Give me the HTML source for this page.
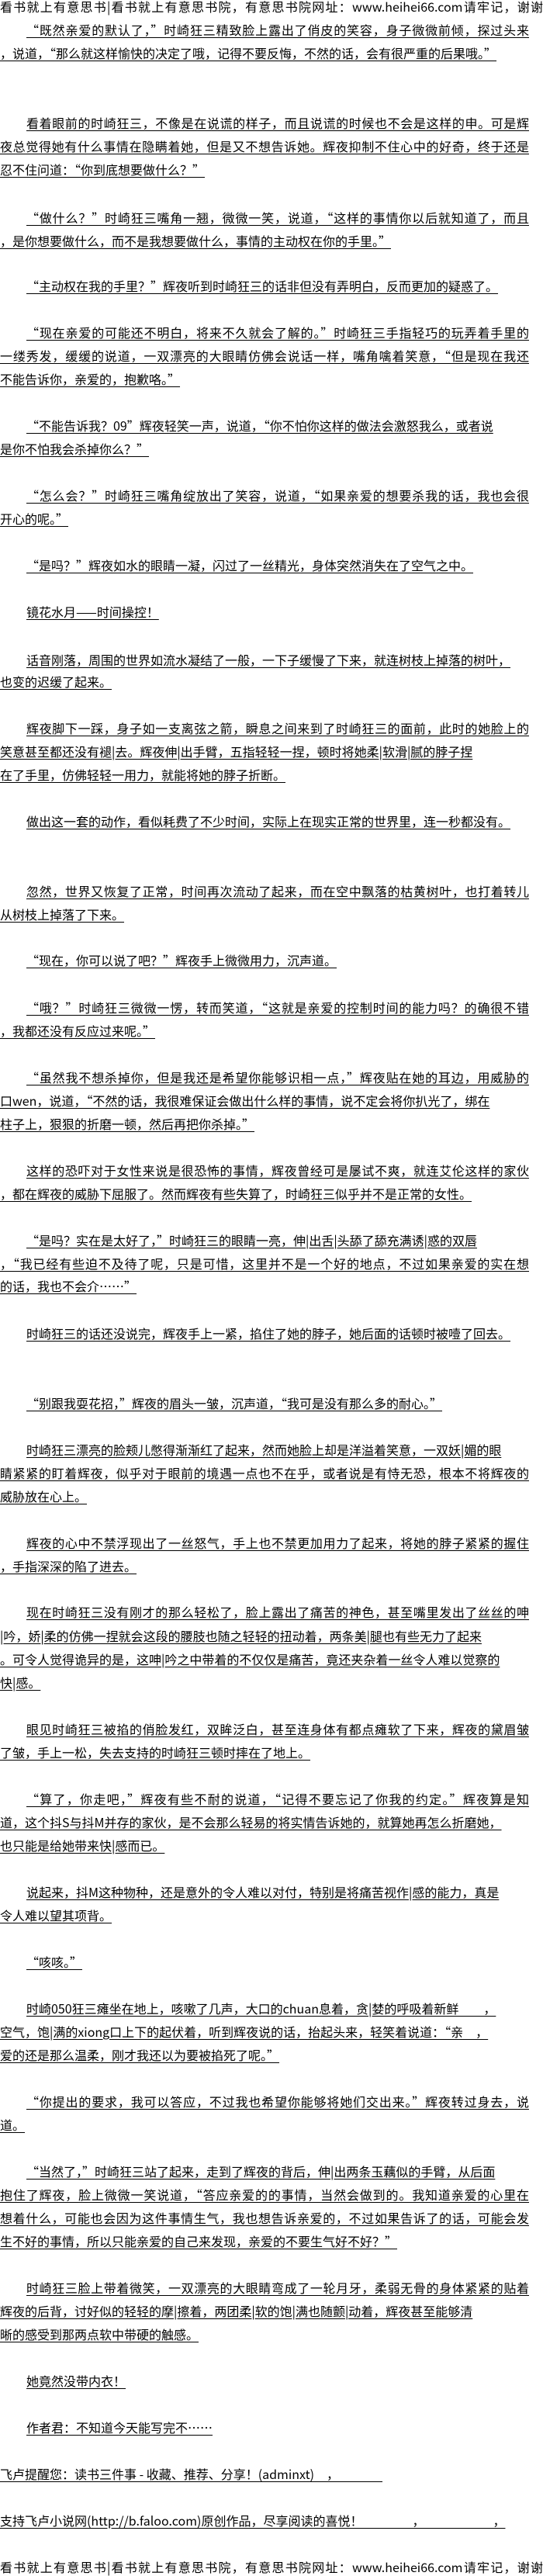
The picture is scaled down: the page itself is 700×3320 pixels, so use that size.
<!DOCTYPE html>
<html><head><meta charset="utf-8"><style>
html,body{margin:0;padding:0;background:#fff;}
body{width:700px;height:3320px;position:relative;overflow:hidden;font-family:"Noto Sans CJK SC","WenQuanYi Zen Hei","Liberation Sans",sans-serif;font-size:16px;color:#000;}
.l{position:absolute;left:0;white-space:nowrap;line-height:20px;height:20px;text-decoration:underline;text-underline-offset:3px;}
.i{left:34px;}
.f{width:682px;text-align:justify;text-align-last:justify;}
.i.f{width:648px;}
.h{text-decoration:none;width:700px;text-align:justify;text-align-last:justify;}
</style></head><body>
<div class="l h" style="top:-2px">看书就上有意思书|看书就上有意思书院，有意思书院网址：www.heihei66.com请牢记，谢谢</div>
<div class="l i f" style="top:28px">“既然亲爱的默认了，”时崎狂三精致脸上露出了俏皮的笑容，身子微微前倾，探过头来</div>
<div class="l" style="top:58px">，说道，“那么就这样愉快的决定了哦，记得不要反悔，不然的话，会有很严重的后果哦。”</div>
<div class="l i f" style="top:148px">看着眼前的时崎狂三，不像是在说谎的样子，而且说谎的时候也不会是这样的申。可是辉</div>
<div class="l f" style="top:178px">夜总觉得她有什么事情在隐瞒着她，但是又不想告诉她。辉夜抑制不住心中的好奇，终于还是</div>
<div class="l" style="top:208px">忍不住问道：“你到底想要做什么？”</div>
<div class="l i f" style="top:270px">“做什么？”时崎狂三嘴角一翘，微微一笑，说道，“这样的事情你以后就知道了，而且</div>
<div class="l" style="top:300px">，是你想要做什么，而不是我想要做什么，事情的主动权在你的手里。”</div>
<div class="l i" style="top:358px">“主动权在我的手里？”辉夜听到时崎狂三的话非但没有弄明白，反而更加的疑惑了。</div>
<div class="l i f" style="top:418px">“现在亲爱的可能还不明白，将来不久就会了解的。”时崎狂三手指轻巧的玩弄着手里的</div>
<div class="l f" style="top:448px">一缕秀发，缓缓的说道，一双漂亮的大眼睛仿佛会说话一样，嘴角噙着笑意，“但是现在我还</div>
<div class="l" style="top:478px">不能告诉你，亲爱的，抱歉咯。”</div>
<div class="l i" style="top:538px">“不能告诉我？09”辉夜轻笑一声，说道，“你不怕你这样的做法会激怒我么，或者说</div>
<div class="l" style="top:568px">是你不怕我会杀掉你么？”</div>
<div class="l i f" style="top:628px">“怎么会？”时崎狂三嘴角绽放出了笑容，说道，“如果亲爱的想要杀我的话，我也会很</div>
<div class="l" style="top:658px">开心的呢。”</div>
<div class="l i" style="top:718px">“是吗？”辉夜如水的眼睛一凝，闪过了一丝精光，身体突然消失在了空气之中。</div>
<div class="l i" style="top:778px">镜花水月——时间操控！</div>
<div class="l i" style="top:840px">话音刚落，周围的世界如流水凝结了一般，一下子缓慢了下来，就连树枝上掉落的树叶，</div>
<div class="l" style="top:868px">也变的迟缓了起来。</div>
<div class="l i f" style="top:928px">辉夜脚下一踩，身子如一支离弦之箭，瞬息之间来到了时崎狂三的面前，此时的她脸上的</div>
<div class="l" style="top:958px">笑意甚至都还没有褪|去。辉夜伸|出手臂，五指轻轻一捏，顿时将她柔|软滑|腻的脖子捏</div>
<div class="l" style="top:988px">在了手里，仿佛轻轻一用力，就能将她的脖子折断。</div>
<div class="l i" style="top:1048px">做出这一套的动作，看似耗费了不少时间，实际上在现实正常的世界里，连一秒都没有。</div>
<div class="l i f" style="top:1138px">忽然，世界又恢复了正常，时间再次流动了起来，而在空中飘落的枯黄树叶，也打着转儿</div>
<div class="l" style="top:1168px">从树枝上掉落了下来。</div>
<div class="l i" style="top:1227px">“现在，你可以说了吧？”辉夜手上微微用力，沉声道。</div>
<div class="l i f" style="top:1288px">“哦？”时崎狂三微微一愣，转而笑道，“这就是亲爱的控制时间的能力吗？的确很不错</div>
<div class="l" style="top:1318px">，我都还没有反应过来呢。”</div>
<div class="l i f" style="top:1378px">“虽然我不想杀掉你，但是我还是希望你能够识相一点，”辉夜贴在她的耳边，用威胁的</div>
<div class="l" style="top:1408px">口wen，说道，“不然的话，我很难保证会做出什么样的事情，说不定会将你扒光了，绑在</div>
<div class="l" style="top:1438px">柱子上，狠狠的折磨一顿，然后再把你杀掉。”</div>
<div class="l i f" style="top:1498px">这样的恐吓对于女性来说是很恐怖的事情，辉夜曾经可是屡试不爽，就连艾伦这样的家伙</div>
<div class="l" style="top:1528px">，都在辉夜的威胁下屈服了。然而辉夜有些失算了，时崎狂三似乎并不是正常的女性。</div>
<div class="l i" style="top:1588px">“是吗？实在是太好了，”时崎狂三的眼睛一亮，伸|出舌|头舔了舔充满诱|惑的双唇</div>
<div class="l f" style="top:1618px">，“我已经有些迫不及待了呢，只是可惜，这里并不是一个好的地点，不过如果亲爱的实在想</div>
<div class="l" style="top:1647px">的话，我也不会介……”</div>
<div class="l i" style="top:1708px">时崎狂三的话还没说完，辉夜手上一紧，掐住了她的脖子，她后面的话顿时被噎了回去。</div>
<div class="l i" style="top:1798px">“别跟我耍花招，”辉夜的眉头一皱，沉声道，“我可是没有那么多的耐心。”</div>
<div class="l i" style="top:1858px">时崎狂三漂亮的脸颊儿憋得渐渐红了起来，然而她脸上却是洋溢着笑意，一双妖|媚的眼</div>
<div class="l f" style="top:1888px">睛紧紧的盯着辉夜，似乎对于眼前的境遇一点也不在乎，或者说是有恃无恐，根本不将辉夜的</div>
<div class="l" style="top:1918px">威胁放在心上。</div>
<div class="l i f" style="top:1978px">辉夜的心中不禁浮现出了一丝怒气，手上也不禁更加用力了起来，将她的脖子紧紧的握住</div>
<div class="l" style="top:2008px">，手指深深的陷了进去。</div>
<div class="l i f" style="top:2067px">现在时崎狂三没有刚才的那么轻松了，脸上露出了痛苦的神色，甚至嘴里发出了丝丝的呻</div>
<div class="l" style="top:2098px">|吟，娇|柔的仿佛一捏就会这段的腰肢也随之轻轻的扭动着，两条美|腿也有些无力了起来</div>
<div class="l" style="top:2128px">。可令人觉得诡异的是，这呻|吟之中带着的不仅仅是痛苦，竟还夹杂着一丝令人难以觉察的</div>
<div class="l" style="top:2158px">快|感。</div>
<div class="l i f" style="top:2218px">眼见时崎狂三被掐的俏脸发红，双眸泛白，甚至连身体有都点瘫软了下来，辉夜的黛眉皱</div>
<div class="l" style="top:2248px">了皱，手上一松，失去支持的时崎狂三顿时摔在了地上。</div>
<div class="l i f" style="top:2308px">“算了，你走吧，”辉夜有些不耐的说道，“记得不要忘记了你我的约定。”辉夜算是知</div>
<div class="l" style="top:2338px">道，这个抖S与抖M并存的家伙，是不会那么轻易的将实情告诉她的，就算她再怎么折磨她，</div>
<div class="l" style="top:2368px">也只能是给她带来快|感而已。</div>
<div class="l i" style="top:2428px">说起来，抖M这种物种，还是意外的令人难以对付，特别是将痛苦视作|感的能力，真是</div>
<div class="l" style="top:2458px">令人难以望其项背。</div>
<div class="l i" style="top:2518px">“咳咳。”</div>
<div class="l i" style="top:2578px">时崎050狂三瘫坐在地上，咳嗽了几声，大口的chuan息着，贪|婪的呼吸着新鲜　　，</div>
<div class="l" style="top:2608px">空气，饱|满的xiong口上下的起伏着，听到辉夜说的话，抬起头来，轻笑着说道：“亲　，</div>
<div class="l" style="top:2638px">爱的还是那么温柔，刚才我还以为要被掐死了呢。”</div>
<div class="l i f" style="top:2698px">“你提出的要求，我可以答应，不过我也希望你能够将她们交出来。”辉夜转过身去，说</div>
<div class="l" style="top:2728px">道。</div>
<div class="l i" style="top:2788px">“当然了，”时崎狂三站了起来，走到了辉夜的背后，伸|出两条玉藕似的手臂，从后面</div>
<div class="l f" style="top:2818px">抱住了辉夜，脸上微微一笑说道，“答应亲爱的的事情，当然会做到的。我知道亲爱的心里在</div>
<div class="l f" style="top:2848px">想着什么，可能也会因为这件事情生气，我也想告诉亲爱的，不过如果告诉了的话，可能会发</div>
<div class="l" style="top:2878px">生不好的事情，所以只能亲爱的自己来发现，亲爱的不要生气好不好？”</div>
<div class="l i f" style="top:2938px">时崎狂三脸上带着微笑，一双漂亮的大眼睛弯成了一轮月牙，柔弱无骨的身体紧紧的贴着</div>
<div class="l" style="top:2968px">辉夜的后背，讨好似的轻轻的摩|擦着，两团柔|软的饱|满也随颤|动着，辉夜甚至能够清</div>
<div class="l" style="top:2998px">晰的感受到那两点软中带硬的触感。</div>
<div class="l i" style="top:3058px">她竟然没带内衣！</div>
<div class="l i" style="top:3118px">作者君：不知道今天能写完不……</div>
<div class="l" style="top:3178px">飞卢提醒您：读书三件事 - 收藏、推荐、分享！(adminxt)　，　　　　</div>
<div class="l" style="top:3238px">支持飞卢小说网(http://b.faloo.com)原创作品，尽享阅读的喜悦！　　　　，　　　　　　，</div>
<div class="l h" style="top:3298px">看书就上有意思书|看书就上有意思书院，有意思书院网址：www.heihei66.com请牢记，谢谢</div>
</body></html>
